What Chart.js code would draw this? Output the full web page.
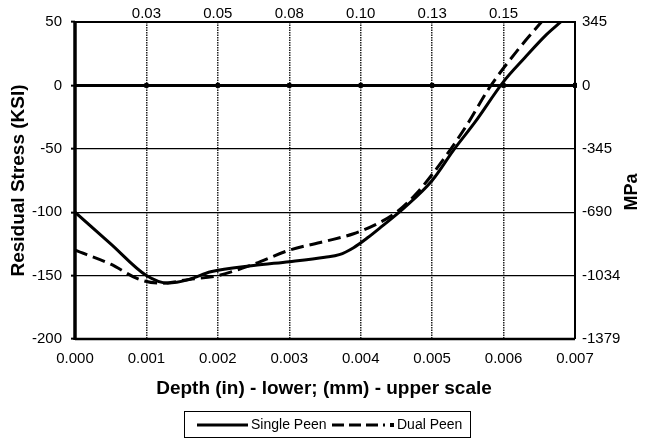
<!DOCTYPE html>
<html>
<head>
<meta charset="utf-8">
<script src="https://cdn.jsdelivr.net/npm/chart.js@4/dist/chart.umd.min.js"></script>
<style>
  html, body { margin: 0; padding: 0; background: #fff; }
  #wrap { width: 646px; height: 439px; position: relative; }
</style>
</head>
<body>
<div id="wrap"><canvas id="c"></canvas></div>
<script>
// depth in inches, stress in ksi
const depthSingle = [0, 0.0005, 0.001, 0.0013, 0.0016, 0.0019, 0.0025, 0.003, 0.0035, 0.0037, 0.0039, 0.0041, 0.0043, 0.0046, 0.005, 0.0053, 0.0056, 0.006, 0.0063, 0.0066, 0.0068];
const stressSingle = [-100, -125, -150, -156, -153, -147, -142, -139, -135.5, -133.5, -128, -120, -111, -97, -75, -51, -29, 3, 22, 40, 50];

const depthDual = [0, 0.0005, 0.0009, 0.0012, 0.0016, 0.002, 0.0025, 0.003, 0.0035, 0.0039, 0.0042, 0.0045, 0.0048, 0.0052, 0.0055, 0.0058, 0.0062, 0.00653];
const stressDual = [-130, -141, -153, -156, -153, -150, -141, -130, -123, -117, -110, -100, -84, -55, -30, -2, 28, 50];

// tick labels
const ksiTicks = [50, 0, -50, -100, -150, -200];
const mpaLabels = ['345', '0', '-345', '-690', '-1034', '-1379'];
const inTicks = [0.001, 0.002, 0.003, 0.004, 0.005, 0.006];
const mmLabels = ['0.03', '0.05', '0.08', '0.10', '0.13', '0.15'];

const FONT = 'Arial, "Liberation Sans", sans-serif';

function pts(xs, ys) { return xs.map((x, i) => ({ x: x, y: ys[i] })); }

const frame = {
    id: 'frame',
    beforeDatasetsDraw(chart) {
        const ctx = chart.ctx, a = chart.chartArea, y = chart.scales.y, x = chart.scales.x;
        ctx.save();
        ctx.strokeStyle = '#000';
        // top + right borders
        ctx.lineWidth = 2;
        ctx.beginPath();
        ctx.moveTo(a.left, a.top); ctx.lineTo(a.right, a.top); ctx.lineTo(a.right, a.bottom);
        ctx.stroke();
        ctx.lineWidth = 2.5;
        ctx.beginPath();
        ctx.moveTo(a.left, a.bottom); ctx.lineTo(a.right, a.bottom);
        ctx.stroke();
        // left thick axis
        ctx.lineWidth = 3.5;
        ctx.beginPath();
        ctx.moveTo(a.left, a.top - 1); ctx.lineTo(a.left, a.bottom + 1);
        ctx.stroke();
        // zero line
        const y0 = y.getPixelForValue(0);
        ctx.lineWidth = 3;
        ctx.beginPath();
        ctx.moveTo(a.left, y0); ctx.lineTo(a.right, y0);
        ctx.stroke();
        ctx.fillStyle = '#000';
        inTicks.concat([0.007]).forEach(v => {
            const px = x.getPixelForValue(v);
            ctx.fillRect(px - 2, y0 - 2.5, 4, 5);
        });
        ctx.restore();
    },
    afterDraw(chart) {
        const ctx = chart.ctx, a = chart.chartArea;
        ctx.save();
        ctx.fillStyle = '#000';
        ctx.font = 'bold 19px ' + FONT;
        ctx.textAlign = 'center';
        ctx.textBaseline = 'middle';
        ctx.fillText('Depth (in) - lower; (mm) - upper scale', 324, 389);
        ctx.save();
        ctx.translate(19, (a.top + a.bottom) / 2);
        ctx.rotate(-Math.PI / 2);
        ctx.fillText('Residual Stress (KSI)', 0, 0);
        ctx.restore();
        ctx.save();
        ctx.font = 'bold 18px ' + FONT;
        ctx.translate(632, 192);
        ctx.rotate(-Math.PI / 2);
        ctx.fillText('MPa', 0, 0);
        ctx.restore();

        // legend box
        const bx = 184, by = 411, bw = 286, bh = 26;
        ctx.lineWidth = 1;
        ctx.strokeStyle = '#000';
        ctx.strokeRect(bx + 0.5, by + 0.5, bw, bh);
        const ds = chart.data.datasets;
        const cy = by + bh / 2 + 1;
        ctx.font = '14px ' + FONT;
        ctx.textAlign = 'left';
        ctx.lineWidth = 3;
        ctx.beginPath(); ctx.setLineDash([]);
        ctx.moveTo(197, cy); ctx.lineTo(248, cy); ctx.stroke();
        ctx.fillText(ds[0].label, 251, cy);
        ctx.beginPath(); ctx.setLineDash([12, 5]);
        ctx.moveTo(332, cy); ctx.lineTo(385, cy); ctx.stroke();
        ctx.setLineDash([]);
        ctx.fillRect(390, cy - 2, 4, 4);
        ctx.fillText(ds[1].label, 397, cy);
        ctx.restore();
    }
};

new Chart(document.getElementById('c'), {
    type: 'line',
    data: {
        datasets: [{
            label: 'Single Peen',
            data: pts(depthSingle, stressSingle),
            borderColor: '#000',
            borderWidth: 3,
            pointRadius: 0,
            cubicInterpolationMode: 'monotone',
            fill: false
        }, {
            label: 'Dual Peen',
            data: pts(depthDual, stressDual),
            borderColor: '#000',
            borderWidth: 3,
            borderDash: [13, 6],
            pointRadius: 0,
            cubicInterpolationMode: 'monotone',
            fill: false
        }]
    },
    options: {
        responsive: true,
        maintainAspectRatio: false,
        animation: false,
        layout: { padding: 0 },
        plugins: { legend: { display: false }, tooltip: { enabled: false } },
        scales: {
            x: {
                type: 'linear', position: 'bottom', min: 0, max: 0.007,
                afterFit: s => { s.height = 100; },
                afterBuildTicks: s => { s.ticks = [0].concat(inTicks, [0.007]).map(v => ({ value: v })); },
                ticks: { color: '#000', font: { size: 15, family: FONT }, padding: 11,
                    callback: v => v.toFixed(3) },
                grid: {
                    drawTicks: false, lineWidth: 1.5,
                    color: c => (c.tick && (c.tick.value === 0 || c.tick.value === 0.007)) ? 'rgba(0,0,0,0)' : '#222'
                },
                border: { display: false, dash: [1.5, 1] }
            },
            x2: {
                type: 'linear', position: 'top', min: 0, max: 0.007,
                afterFit: s => { s.height = 22; },
                afterBuildTicks: s => { s.ticks = inTicks.map(v => ({ value: v })); },
                ticks: { color: '#000', font: { size: 15, family: FONT }, padding: -1,
                    callback: (v, i) => mmLabels[i] },
                grid: { display: false, drawTicks: false },
                border: { display: false }
            },
            y: {
                position: 'left', min: -200, max: 50,
                afterFit: s => { s.width = 75; },
                afterBuildTicks: s => { s.ticks = ksiTicks.map(v => ({ value: v })); },
                ticks: { color: '#000', font: { size: 15, family: FONT }, padding: 9 },
                grid: {
                    tickLength: 4, lineWidth: 1.3, tickWidth: 2,
                    color: c => (c.tick && (c.tick.value === 0 || c.tick.value === 50 || c.tick.value === -200)) ? 'rgba(0,0,0,0)' : '#000',
                    tickColor: '#000'
                },
                border: { display: false }
            },
            y2: {
                position: 'right', min: -200, max: 50,
                afterFit: s => { s.width = 71; },
                afterBuildTicks: s => { s.ticks = ksiTicks.map(v => ({ value: v })); },
                ticks: { color: '#000', font: { size: 15, family: FONT }, padding: 7,
                    callback: (v, i) => mpaLabels[i] },
                grid: { display: false, drawTicks: false },
                border: { display: false }
            }
        }
    },
    plugins: [frame]
});
</script>
</body>
</html>
